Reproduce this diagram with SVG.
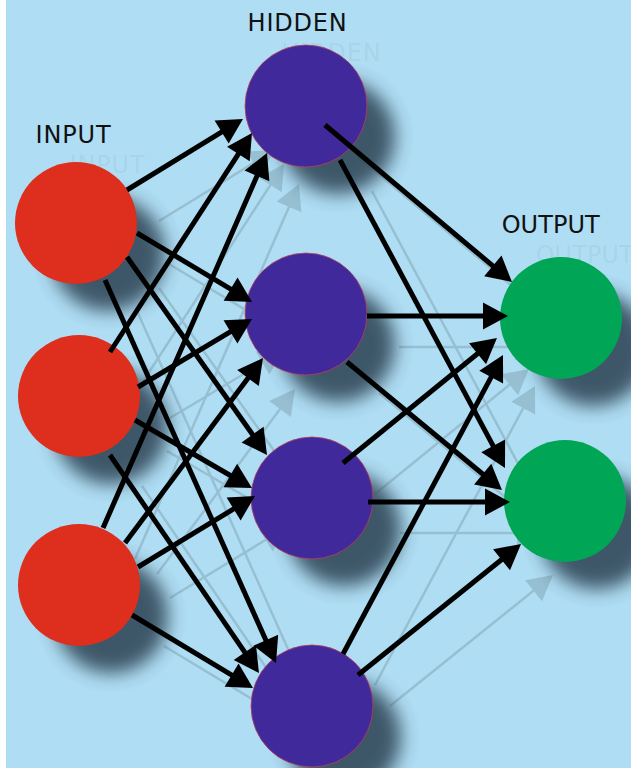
<svg xmlns="http://www.w3.org/2000/svg" xmlns:xlink="http://www.w3.org/1999/xlink" width="631" height="768" viewBox="0 0 631 768">
  <defs>
    <style>
      .bg { fill: #afddf3; }
      .shadow { fill: #33495a; opacity: 0.9; filter: url(#blur9); }
      .in { fill: #dd2e1e; }
      .hid { fill: #40299a; stroke: #b8405a; stroke-width: 0.8; }
      .out { fill: #00a656; }
      .label { font-family: "DejaVu Sans", Verdana, sans-serif; font-size: 24px; fill: #111; }
      .links line { marker-end: url(#head); }
    </style>
    <filter id="blur9" x="-40%" y="-40%" width="180%" height="180%">
      <feGaussianBlur stdDeviation="9"/>
    </filter>
    <filter id="soft" x="-10%" y="-10%" width="120%" height="120%">
      <feGaussianBlur stdDeviation="0.7"/>
    </filter>
    <marker id="head" markerUnits="userSpaceOnUse" markerWidth="40" markerHeight="40" refX="0" refY="0" orient="auto" overflow="visible">
      <path d="M-7,-13.5 L18,0 L-7,13.5 Z" fill="#000"/>
    </marker>
  </defs>

  <!-- background -->
  <rect width="631" height="768" fill="#fff"/>
  <rect class="bg" x="6" y="0" width="625" height="768"/>

  <!-- faint offset copy of the connectors and labels -->
  <use xlink:href="#links" href="#links" transform="translate(32,31)" stroke="#000" stroke-width="2.5" opacity="0.13" filter="url(#soft)"/>
  <use xlink:href="#labels" href="#labels" transform="translate(34,30)" opacity="0.04"/>

  <!-- input layer -->
  <g id="in1"><circle class="shadow" cx="108" cy="254" r="57"/><circle class="in" cx="76" cy="223" r="61"/></g>
  <g id="in2"><circle class="shadow" cx="111" cy="427" r="57"/><circle class="in" cx="79" cy="396" r="61"/></g>
  <g id="in3"><circle class="shadow" cx="111" cy="616" r="57"/><circle class="in" cx="79" cy="585" r="61"/></g>

  <!-- hidden layer -->
  <g id="hid1"><circle class="shadow" cx="338" cy="137" r="57"/><circle class="hid" cx="306" cy="106" r="61"/></g>
  <g id="hid2"><circle class="shadow" cx="338" cy="345" r="57"/><circle class="hid" cx="306" cy="314" r="61"/></g>
  <g id="hid3"><circle class="shadow" cx="344" cy="529" r="57"/><circle class="hid" cx="312" cy="498" r="61"/></g>
  <g id="hid4"><circle class="shadow" cx="344" cy="737" r="57"/><circle class="hid" cx="312" cy="706" r="61"/></g>

  <!-- output layer -->
  <g id="out1"><circle class="shadow" cx="593" cy="349" r="57"/><circle class="out" cx="561" cy="318" r="61"/></g>
  <g id="out2"><circle class="shadow" cx="597" cy="532" r="57"/><circle class="out" cx="565" cy="501" r="61"/></g>

  <!-- layer titles -->
  <g id="labels" class="label">
    <text x="35.6" y="143" textLength="75" lengthAdjust="spacing">INPUT</text>
    <text x="247.6" y="31" textLength="99" lengthAdjust="spacing">HIDDEN</text>
    <text x="501.7" y="233" textLength="98" lengthAdjust="spacing">OUTPUT</text>
  </g>

  <!-- connectors: lines stop short of the tip, the marker carries the point -->
  <g stroke="#000" stroke-width="5">
    <g id="links" class="links">
      <line x1="127" y1="190" x2="227.6" y2="128.4"/>
      <line x1="137" y1="233" x2="236.6" y2="292.7"/>
      <line x1="127" y1="257" x2="256.6" y2="440.3"/>
      <line x1="105" y1="280" x2="268.7" y2="646.6"/>
      <line x1="110" y1="352" x2="242.2" y2="148.1"/>
      <line x1="138" y1="387" x2="236.5" y2="328.2"/>
      <line x1="135" y1="420" x2="236.4" y2="479.0"/>
      <line x1="110" y1="455" x2="248.8" y2="658.1"/>
      <line x1="103" y1="528" x2="259.8" y2="169.5"/>
      <line x1="125" y1="543" x2="252.2" y2="372.4"/>
      <line x1="138" y1="567" x2="239.6" y2="505.3"/>
      <line x1="132" y1="615" x2="237.6" y2="678.7"/>
      <line x1="325" y1="125" x2="498.2" y2="270.4"/>
      <line x1="340" y1="160" x2="496.5" y2="452.1"/>
      <line x1="367" y1="316" x2="490" y2="316"/>
      <line x1="347" y1="362" x2="488.1" y2="478.5"/>
      <line x1="343" y1="463" x2="483.0" y2="349.3"/>
      <line x1="368" y1="502" x2="492" y2="502"/>
      <line x1="343" y1="654" x2="494.5" y2="370.9"/>
      <line x1="358" y1="675" x2="507.0" y2="555.3"/>
    </g>
  </g>
</svg>
